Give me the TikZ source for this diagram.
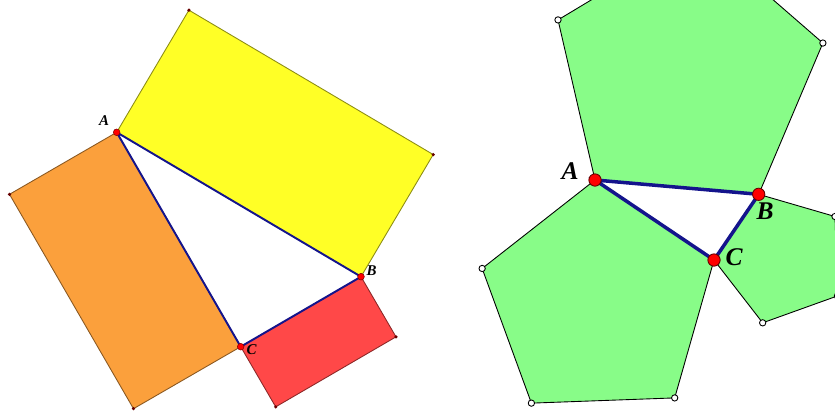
\documentclass[tikz,border=0pt]{standalone}
\usepackage{fontspec}
\usepackage{tikz}
\usetikzlibrary{calc}

\newfontfamily\timesfont{Liberation Serif}

\definecolor{gelb}{HTML}{FFFF26}
\definecolor{orange1}{HTML}{FBA03C}
\definecolor{rot1}{HTML}{FF4848}
\definecolor{gruen}{HTML}{88FC88}
\definecolor{navy1}{HTML}{14148C}

\tikzset{
  area/.style={fill=#1, draw=#1!55!black, line width=0.5pt},
  penta/.style={fill=gruen, draw=black, line width=0.5pt},
  sidethin/.style={draw=navy1, line width=1.1pt},
  sidethick/.style={draw=navy1, line width=2pt},
  vtxsmall/.style={circle, fill=red, draw=red!50!black, line width=0.3pt, inner sep=0pt, minimum size=3.8pt},
  vtxbig/.style={circle, fill=red, draw=red!40!black, line width=0.5pt, inner sep=0pt, minimum size=7pt},
  corner/.style={circle, fill=red!40!black, inner sep=0pt, minimum size=2pt},
  freept/.style={circle, fill=white, draw=black, line width=0.5pt, inner sep=0pt, minimum size=3.6pt},
  lblsmall/.style={font=\timesfont\fontsize{8.5}{10}\selectfont\bfseries\itshape},
  lblbig/.style={font=\timesfont\fontsize{14.5}{17}\selectfont\bfseries\itshape}
}

\begin{document}
\begin{tikzpicture}[x=0.02cm, y=-0.02cm]
    % Rahmen
    \useasboundingbox (0,0) rectangle (835,410);
    \clip (0,0) rectangle (835,410);

    % Dreieck links
    \coordinate (lA) at (116.7,132.3);
    \coordinate (lB) at (361,276.7);
    \coordinate (lC) at (240.7,346.7);

    % Rechtecke (halbe Seitenlaenge)
    \coordinate (y1) at ($(lA)!0.5!90:(lB)$);
    \coordinate (y2) at ($(lB)!0.5!-90:(lA)$);
    \coordinate (o1) at ($(lA)!0.5!-90:(lC)$);
    \coordinate (o2) at ($(lC)!0.5!90:(lA)$);
    \coordinate (r1) at ($(lB)!0.5!90:(lC)$);
    \coordinate (r2) at ($(lC)!0.5!-90:(lB)$);

    \draw[area=gelb] (lA) -- (lB) -- (y2) -- (y1) -- cycle;
    \draw[area=orange1] (lA) -- (lC) -- (o2) -- (o1) -- cycle;
    \draw[area=rot1] (lB) -- (lC) -- (r2) -- (r1) -- cycle;

    \draw[sidethin] (lA) -- (lB) -- (lC) -- cycle;

    \foreach \c in {y1, y2, o1, o2, r1, r2}
        \node[corner] at (\c) {};
    \foreach \v in {lA, lB, lC}
        \node[vtxsmall] at (\v) {};

    \node[lblsmall] at (104,121) {A};
    \node[lblsmall] at (371.5,270.5) {B};
    \node[lblsmall] at (251.5,349.5) {C};

    % Dreieck rechts
    \coordinate (rA) at (595,180);
    \coordinate (rB) at (758.7,194.3);
    \coordinate (rC) at (714,260);

    % regelmaessige Fuenfecke
    \foreach \p/\q/\n in {rA/rB/ab, rB/rC/bc, rC/rA/ca} {
        \coordinate (\n2) at ($(\q)!1!-108:(\p)$);
        \coordinate (\n3) at ($(\n2)!1!-108:(\q)$);
        \coordinate (\n4) at ($(\n3)!1!-108:(\n2)$);
        \draw[penta] (\p) -- (\q) -- (\n2) -- (\n3) -- (\n4) -- cycle;
    }

    \draw[sidethick] (rA) -- (rB) -- (rC) -- cycle;

    \foreach \n in {ab, bc, ca}
        \foreach \k in {2, 3, 4}
            \node[freept] at (\n\k) {};
    \foreach \v in {rA, rB, rC}
        \node[vtxbig] at (\v) {};

    \node[lblbig] at (570,171) {A};
    \node[lblbig] at (765,211) {B};
    \node[lblbig] at (734,257) {C};
\end{tikzpicture}
\end{document}
